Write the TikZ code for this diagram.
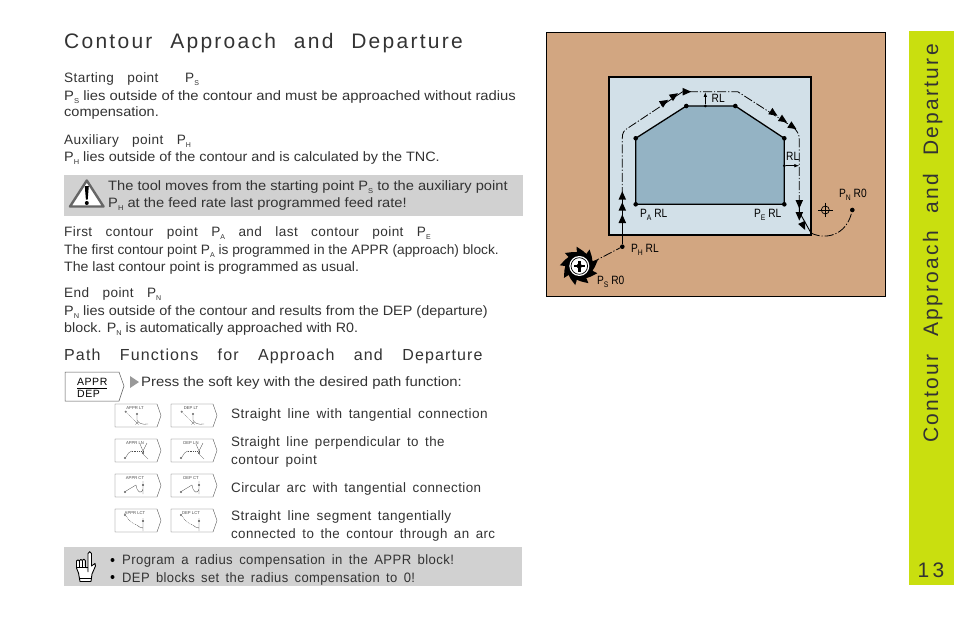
\documentclass[tikz,border=0pt]{standalone}
\usepackage{fontspec}
\usetikzlibrary{arrows.meta}
\setmainfont{Liberation Sans}
\newfontfamily\fsA{Liberation Sans}[LetterSpace=7,WordSpace=3.5]
\newfontfamily\fsB{Liberation Sans}[LetterSpace=10.8,WordSpace=2.2]
\newfontfamily\fsC{Liberation Sans}[LetterSpace=3,WordSpace=1.6]
\newfontfamily\fsE{Liberation Sans}[LetterSpace=5]
\definecolor{ink}{HTML}{333333}
\definecolor{band}{HTML}{C9DF0F}
\definecolor{panel}{HTML}{D1D1D1}
\definecolor{terra}{HTML}{D2A681}
\definecolor{paper}{HTML}{D2E0E8}
\definecolor{part}{HTML}{94B3C4}
\newcommand{\sbs}[1]{\raisebox{-3pt}{\fontsize{7}{7}\selectfont #1}}
\newcommand{\sbd}[1]{\raisebox{-3.5pt}{\fontsize{8}{8}\selectfont #1}}
\newcommand{\tri}[3]{\fill[black,shift={(#1,#2)},rotate=#3] (4.5,0)--(-4,-3.8)--(-4,3.8)--cycle;}
\newcommand{\gp}{\ \ }
\tikzset{
 txt/.style={anchor=base west,inner sep=0pt,text=ink,font=\fontsize{13.6}{13.6}\selectfont},
 lab/.style={anchor=base west,inner sep=0pt,text=ink,font=\fsC\fontsize{13.6}{13.6}\selectfont},
 head/.style={anchor=base west,inner sep=0pt,text=ink,font=\fsA\fontsize{16}{16}\selectfont},
 title/.style={anchor=base west,inner sep=0pt,text=ink,font=\fsB\fontsize{21}{21}\selectfont},
 fig/.style={anchor=base west,inner sep=0pt,text=black,xscale=.85,font=\fontsize{12}{12}\selectfont},
 keytext/.style={anchor=base west,inner sep=0pt,text=black,font=\fsE\fontsize{10.5}{10.5}\selectfont},
 contour/.style={line width=1.3pt,black},
 toolpath/.style={line width=.8pt,black,dash pattern=on 9pt off 2pt on 1.2pt off 2pt},
 dotnode/.style={circle,fill=black,inner sep=0pt,minimum size=4.6pt},
 softkey/.style={draw=black!65,line width=.4pt,fill=white},
 tiny/.style={line width=.3pt,black!70},
 tinytext/.style={inner sep=0pt,text=black!70,font=\fontsize{4.2}{4.2}\selectfont},
}
\newcommand{\skey}[5]{%
 \begin{scope}[shift={(#1,#2)}]
  \draw[softkey] (0,0)--(42,0)--(46,11.5)--(42,23)--(0,23)--cycle;
  \node[tinytext] (#5) at (20,4) {#3};
  #4
 \end{scope}}
\newcommand{\iconA}{\draw[tiny] (10.7,7.7) circle(.8);\draw[tiny,dash pattern=on 1pt off .8pt] (11.5,8.5)--(22,19);\draw[tiny] (22,10) circle(.8) (22,11)--(22,16) .. controls (23,19) and (27,21) .. (33,20) (20.5,17.5)--(23.5,20.5) (23.5,17.5)--(20.5,20.5);}
\newcommand{\iconB}{\draw[tiny] (10,19) circle(.8) (11,18)--(13.5,14)--(16.7,12);\draw[tiny,dash pattern=on 1pt off .8pt] (16.7,12)--(28,12);\draw[tiny] (25,5)--(28,12)--(32,4) (28,12)--(28,15)--(33,20) (28,14) circle(.8);}
\newcommand{\iconC}{\draw[tiny] (10,18) circle(.8) (11,17)--(14.3,15)--(21,11) .. controls (22,18) and (26,21) .. (28,15) (28,7)--(28,20) (28,11) circle(.8);}
\newcommand{\iconD}{\draw[tiny] (10,6) circle(.8);\draw[tiny,dash pattern=on 1pt off .8pt] (11,7) .. controls (13,11) and (18,15) .. (21.7,16);\draw[tiny] (21.7,16) .. controls (24,18) and (26,19) .. (28,19) (28,9)--(28,22) (28,12) circle(.8);}
\begin{document}
\begin{tikzpicture}[x=1pt,y=-1pt]
\useasboundingbox (0,0) rectangle (954,618);
\fill[white] (0,0) rectangle (954,618);
% side band
\fill[band] (909,31) rectangle (954,585);
\node[title,rotate=90] (sidetitle) at (938,443) {Contour Approach and Departure};
\node[title,anchor=base] (pagenum) at (931,577) {1\,3};
% panels
\fill[panel] (64,175) rectangle (523,216);
\fill[panel] (64,547) rectangle (522,586);
% texts
\node[title] (t1) at (64,49) {Contour Approach and Departure};
\node[lab] (a1) at (64,83) {Starting\gp{}point\gp\gp{}P\sbs{S}};
\node[txt,xscale=1.09] (a2) at (64,100) {P\sbs{S} lies outside of the contour and must be approached without radius};
\node[txt,xscale=1.07] (a3) at (64,117) {compensation.};
\node[lab] (b1) at (64,144) {Auxiliary\gp{}point\gp{}P\sbs{H}};
\node[txt,xscale=1.06] (b2) at (64,161) {P\sbs{H} lies outside of the contour and is calculated by the TNC.};
\node[txt,xscale=1.078] (w1) at (108,190) {The tool moves from the starting point P\sbs{S} to the auxiliary point};
\node[txt,xscale=1.08] (w2) at (108,207) {P\sbs{H} at the feed rate last programmed feed rate!};
\node[lab] (c1) at (64,236) {First\gp{}contour\gp{}point\gp{}P\sbs{A}\gp{}and\gp{}last\gp{}contour\gp{}point\gp{}P\sbs{E}};
\node[txt,xscale=1.01] (c2) at (64,254) {The first contour point P\sbs{A} is programmed in the APPR (approach) block.};
\node[txt,xscale=1.04] (c3) at (64,271) {The last contour point is programmed as usual.};
\node[lab] (d1) at (64,297) {End\gp{}point\gp{}P\sbs{N}};
\node[txt,xscale=1.06] (d2) at (64,315) {P\sbs{N} lies outside of the contour and results from the DEP (departure)};
\node[txt,xscale=1.05] (d3) at (64,332) {block. P\sbs{N} is automatically approached with R0.};
\node[head] (t2) at (64,360) {Path Functions for Approach and Departure};
\node[txt,xscale=1.096] (press) at (141,386) {Press the soft key with the desired path function:};
\fill[black!40] (130,376)--(139,382)--(130,388)--cycle;
% big soft key
\draw[softkey,line width=.5pt] (65,372)--(119,372)--(124,386)--(119,401)--(65,401)--cycle;
\node[keytext] (kt1) at (77,385.7) {APPR};
\node[keytext] (kt2) at (77,397.3) {DEP};
\draw[black,line width=.6pt] (77,388)--(107,388);
% small soft keys
\skey{115}{404}{APPR LT}{\iconA}{k1}
\skey{171}{404}{DEP LT}{\iconA}{k2}
\skey{115}{439}{APPR LN}{\iconB}{k3}
\skey{171}{439}{DEP LN}{\iconB}{k4}
\skey{115}{474}{APPR CT}{\iconC}{k5}
\skey{171}{474}{DEP CT}{\iconC}{k6}
\skey{115}{509}{APPR LCT}{\iconD}{k7}
\skey{171}{509}{DEP LCT}{\iconD}{k8}
\node[lab] (r1) at (231,418) {Straight line with tangential connection};
\node[lab,xscale=.98] (r2) at (231,446) {Straight line perpendicular to the};
\node[lab] (r2b) at (231,464) {contour point};
\node[lab,xscale=.985] (r3) at (231,492) {Circular arc with tangential connection};
\node[lab] (r4) at (231,520) {Straight line segment tangentially};
\node[lab,xscale=.98] (r4b) at (231,538) {connected to the contour through an arc};
\fill[black] (112.5,560) circle(2) (112.5,577) circle(2);
\node[lab,xscale=.965] (n1) at (122,564) {Program a radius compensation in the APPR block!};
\node[lab,xscale=.955] (n2) at (122,582) {DEP blocks set the radius compensation to 0!};
% warning icon
\draw[black!60,fill=white,line width=2.4pt,line join=round] (70,206.5)--(86.8,180.5)--(103.5,206.5)--cycle;
\fill[black] (84.8,186)--(88.8,186)--(87.7,199.5)--(85.9,199.5)--cycle;
\fill[black] (86.8,203) circle(2);
% hand icon
\draw[black,fill=white,line width=.9pt,line join=round]
 (88,572)--(88,553.5) .. controls (88,551) and (91.5,551) .. (91.5,553.5)--(91.5,566)
 --(95,563.5)--(95.5,566)--(92,574)--(91,581.5)--(80,581.5)--(78.5,573)--(76.5,568)--(76.5,561)
 .. controls (77,559.5) and (79,559.5) .. (79.3,561) .. controls (79.5,559) and (82,559) .. (82.3,560.5)
 .. controls (82.7,558.7) and (85,558.7) .. (85.3,560.5)--(85.3,566);
\draw[black,line width=.7pt] (79.3,561)--(79.3,567) (82.3,560.5)--(82.3,567) (85.3,560.5)--(85.3,567) (76.5,567)--(88,567) (80,578)--(91,578);
% diagram
\draw[black,fill=terra,line width=.8pt] (546.5,32.5) rectangle (885.5,296);
\draw[black,fill=paper,line width=1.6pt] (609,77) rectangle (811,235);
\coordinate (C1) at (635.7,204.3);
\coordinate (C2) at (635.7,138.3);
\coordinate (C3) at (686.3,106);
\coordinate (C4) at (735.3,106);
\coordinate (C5) at (784.3,138.3);
\coordinate (C6) at (784.3,204.3);
\fill[part] (C1)--(C2)--(C3)--(C4)--(C5)--(C6)--cycle;
\draw[contour,line join=round] (C1)--(C2)--(C3)--(C4)--(C5)--(C6)--cycle;
\foreach \p/\n in {C1/q1,C2/q2,C3/q3,C4/q4,C5/q5,C6/q6} \node[dotnode] (\n) at (\p) {};
% tool
\coordinate (T) at (579.3,266);
\foreach \a in {0,40,...,320}{
 \fill[black,shift={(T)},rotate=\a] (0,0)--(14,-5)--(18.5,-6)--(15.5,1)--(13,5)--cycle;}
\fill[black] (T) circle(14);
\fill[white] (T) circle(10);
\draw[black,line width=.7pt] (T) circle(8.3);
\fill[black] (T) ++(-5.5,-1.3) rectangle ++(11,2.6);
\fill[black] (T) ++(-1.3,-5.5) rectangle ++(2.6,11);
\fill[black] (T) circle(2.6);
% tool path
\node[dotnode] (PH) at (622.3,246.7) {};
\node[dotnode] (PN) at (852.3,210) {};
\coordinate (PS) at (591,263);
\coordinate (P1) at (622.3,196);
\coordinate (P2) at (811,233);
\draw[toolpath] (PS)--(PH);
\draw[toolpath] (PH)--(622.3,235);
\draw[black,line width=.9pt] (622.3,235)--(P1);
\draw[toolpath] (P1)--(622.3,138) .. controls (622.3,133) and (624,130) .. (628,128)--(682.7,91.7)--(737.7,91.7) --(792,126.5) .. controls (797,130) and (799.3,134) .. (799.3,140)--(799.3,203);
\draw[black,line width=.9pt] (799.3,200)--(799.3,212)--(P2);
\draw[toolpath] (P2) .. controls (825,240) and (846,236) .. (PN);
\tri{622.3}{195.7}{90}\tri{622.3}{206.7}{90}\tri{622.3}{219}{90}
\tri{664.3}{102.3}{33}\tri{674.3}{95.7}{33}\tri{686.7}{91.7}{0}
\tri{773.7}{113.3}{-33}\tri{783.3}{120}{-33}\tri{792.7}{126.7}{-33}
\tri{799.3}{204}{-90}\tri{799.3}{216}{-90}\tri{803.3}{226}{-65}
% RL marks
\node[dotnode,minimum size=3pt] (m1) at (705.3,106) {};
\node[dotnode,minimum size=3pt] (m2) at (784.3,165.7) {};
\coordinate (m1e) at (705.3,92);
\coordinate (m2e) at (799.3,165.7);
\draw[-{Latex[length=5pt,width=3.6pt]},black,line width=.8pt] (m1)--(m1e);
\draw[-{Latex[length=5pt,width=3.6pt]},black,line width=.8pt] (m2)--(m2e);
% crosshair
\node[circle,draw=black,line width=.7pt,inner sep=0pt,minimum size=8pt] (cross) at (825.3,210) {};
\draw[black,line width=.7pt] (818,210)--(832.6,210) (825.3,202.7)--(825.3,217.3);
% labels
\node[fig] (lRL1) at (711.5,102.5) {RL};
\node[fig] (lRL2) at (786,160.5) {RL};
\node[fig] (lPA) at (640,217) {P\sbd{A} RL};
\node[fig] (lPE) at (754,217) {P\sbd{E} RL};
\node[fig] (lPH) at (631,252) {P\sbd{H} RL};
\node[fig] (lPS) at (597,284) {P\sbd{S} R0};
\node[fig] (lPN) at (839,197) {P\sbd{N} R0};
\end{tikzpicture}
\end{document}
